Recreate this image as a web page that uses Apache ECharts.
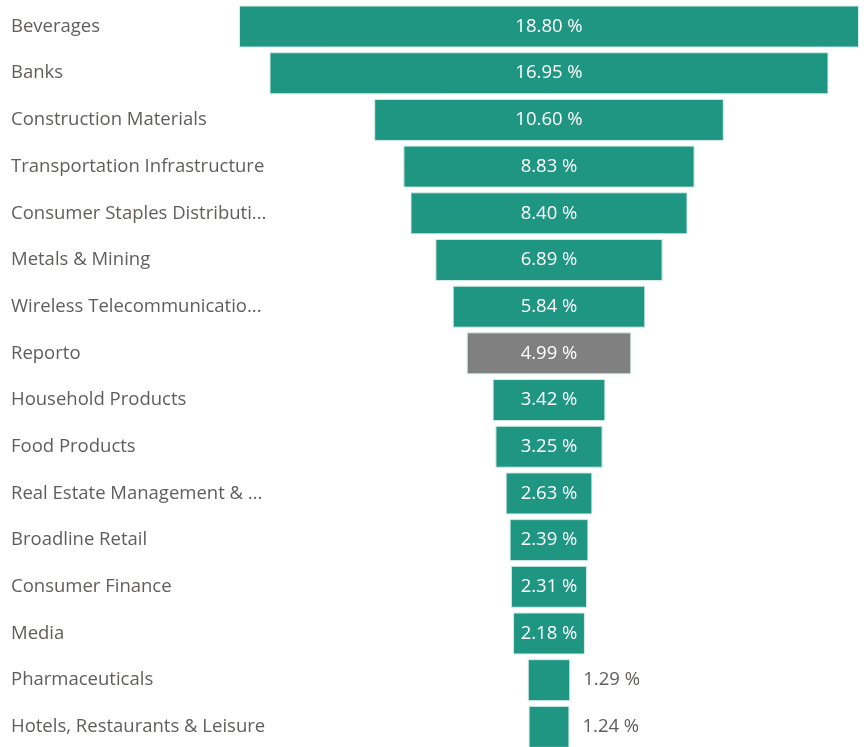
<!DOCTYPE html>
<html>
<head>
<meta charset="utf-8">
<script src="https://cdn.jsdelivr.net/npm/echarts@6/dist/echarts.min.js"></script>
<style>
  html, body { margin: 0; padding: 0; background: #fff; }
  #chart { width: 864px; height: 747px; }
</style>
</head>
<body>
<div id="chart"></div>
<script>
const categories = [
  'Beverages', 'Banks', 'Construction Materials', 'Transportation Infrastructure',
  'Consumer Staples Distribution & Retail', 'Metals & Mining', 'Wireless Telecommunication Services',
  'Reporto', 'Household Products', 'Food Products', 'Real Estate Management & Development',
  'Broadline Retail', 'Consumer Finance', 'Media', 'Pharmaceuticals', 'Hotels, Restaurants & Leisure'
]
const weights = [18.80, 16.95, 10.60, 8.83, 8.40, 6.89, 5.84, 4.99, 3.42, 3.25, 2.63, 2.39, 2.31, 2.18, 1.29, 1.24]
const highlighted = ['Reporto']

const maxWeight = Math.max(...weights)
const teal = '#1F9682'
const grey = '#808080'
const textColor = '#605E5C'
const fontFamily = '"Open Sans", "Noto Sans", sans-serif'

const chart = echarts.init(document.getElementById('chart'))

// invisible spacer so each bar is centred
const spacer = weights.map(v => (maxWeight - v) / 2)

const barData = weights.map((v, i) => {
  const inside = v >= 2
  return {
    value: v,
    itemStyle: { color: highlighted.includes(categories[i]) ? grey : teal },
    label: {
      position: inside ? 'inside' : 'right',
      distance: 13,
      color: inside ? '#ffffff' : textColor
    }
  }
})

const option = {
  animation: false,
  grid: { left: 239, right: 5, top: 3.2, height: 747, outerBoundsMode: 'none' },
  xAxis: {
    type: 'value',
    min: 0,
    max: maxWeight,
    show: false
  },
  yAxis: {
    type: 'category',
    inverse: true,
    data: categories,
    axisLine: { show: false },
    axisTick: { show: false },
    axisLabel: {
      align: 'left',
      margin: 228,
      color: textColor,
      fontSize: 18.5,
      fontFamily: fontFamily,
      width: 262,
      overflow: 'truncate',
      ellipsis: '...'
    }
  },
  series: [
    {
      type: 'bar',
      stack: 'funnel',
      data: spacer,
      itemStyle: { color: 'transparent' },
      silent: true
    },
    {
      type: 'bar',
      stack: 'funnel',
      data: barData,
      barCategoryGap: '10%',
      itemStyle: { borderColor: '#d6ece8', borderWidth: 1 },
      label: {
        show: true,
        fontSize: 18.5,
        fontFamily: fontFamily,
        formatter: p => p.value.toFixed(2) + ' %'
      }
    }
  ]
}

chart.setOption(option)
window.addEventListener('resize', function () {
  chart.resize()
})
</script>
</body>
</html>
